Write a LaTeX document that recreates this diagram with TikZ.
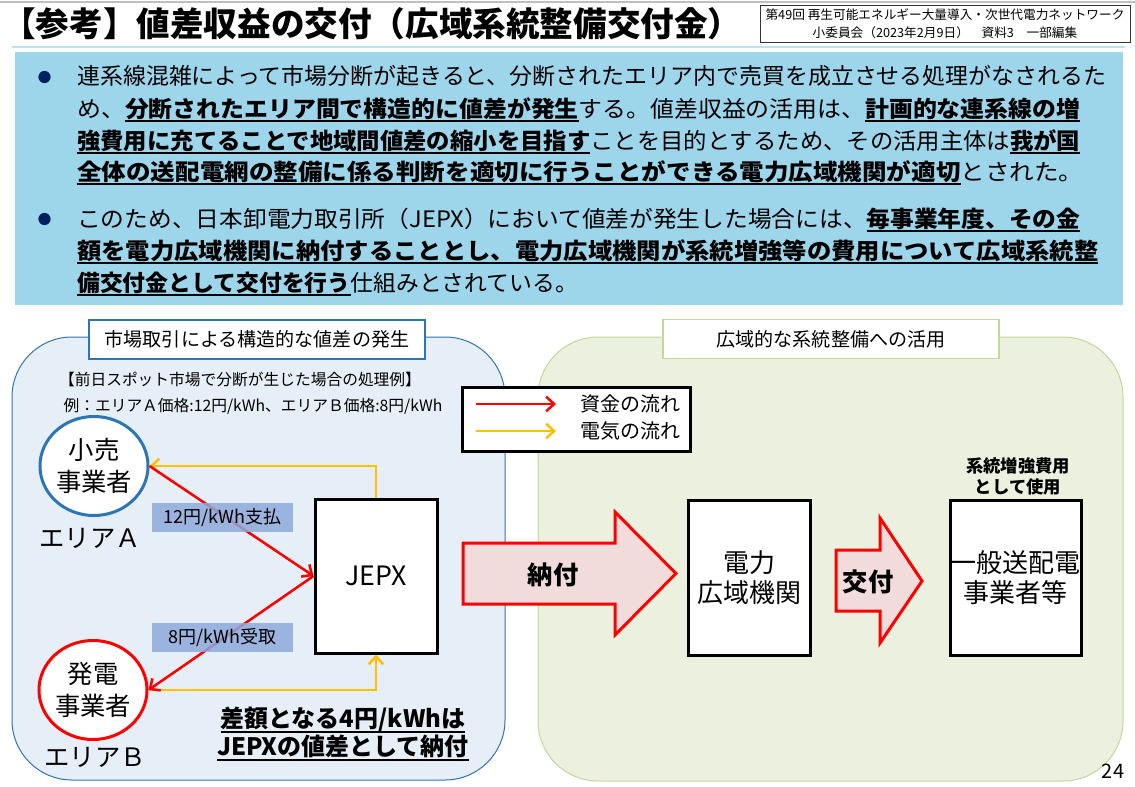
\documentclass[tikz,border=0pt]{standalone}
\usepackage{fontspec}
\setmainfont{Noto Sans CJK JP}
\usepackage{graphicx}
\usetikzlibrary{arrows.meta, shapes.geometric, positioning}

\definecolor{bullbg}{RGB}{157,213,235}
\definecolor{navy}{RGB}{0,32,96}
\definecolor{leftbg}{RGB}{230,238,247}
\definecolor{leftline}{RGB}{46,117,182}
\definecolor{rightbg}{RGB}{235,241,222}
\definecolor{rightline}{RGB}{195,214,155}
\definecolor{pinkfill}{RGB}{242,220,219}
\definecolor{labelblue}{RGB}{142,169,219}
\definecolor{gold}{RGB}{255,192,0}

\newcommand\fsz[2]{\fontsize{#1}{#2}\selectfont}
\newsavebox\ulbox
\newcommand\bu[1]{\sbox\ulbox{\textbf{#1}}\rlap{\rule[-0.2em]{\wd\ulbox}{0.08em}}\usebox\ulbox}

\begin{document}
\begin{tikzpicture}[x=0.75pt, y=-0.75pt,
                    txt/.style={anchor=base west, inner sep=0pt, font=\fsz{17pt}{20pt}},
                    money/.style={red, line width=1.9pt, -{Straight Barb[length=6pt,width=11pt]}},
                    power/.style={gold, line width=1.9pt, -{Straight Barb[length=6pt,width=11pt]}},
                    panelhead/.style={fill=white, line width=1pt, minimum width=252pt, minimum height=29.25pt, font=\fsz{14.3pt}{17pt}},
                    party/.style={ellipse, draw, fill=white, line width=2.25pt, minimum width=81pt, minimum height=74.25pt, inner sep=0pt, align=center, font=\fsz{19pt}{24pt}},
                    area/.style={font=\fsz{19pt}{22pt}},
                    price/.style={fill=labelblue, fill opacity=0.85, text opacity=1, minimum width=105.75pt, minimum height=21.75pt, font=\fsz{13.5pt}{15pt}},
                    org/.style={draw, fill=white, line width=2.25pt, align=center, font=\fsz{19.5pt}{22.5pt}},
                    flow/.style={draw=red, fill=pinkfill, line width=2.25pt},
                    flowtext/.style={font=\bfseries\fsz{19pt}{22pt}}]
    \useasboundingbox (0,0) rectangle (1135,786);

    % header
    \draw[black!25, line width=1pt] (0,2) -- (1135,2);
    \node[anchor=west, inner sep=0pt, font=\bfseries\fsz{25.2pt}{30pt}] (title) at (2,24) {【参考】値差収益の交付（広域系統整備交付金）};
    \node[draw=black!80, line width=0.75pt, fill=white, minimum width=277.5pt, minimum height=27.75pt, inner sep=1pt,
          align=center, font=\fsz{9.5pt}{13.8pt}] (meta) at (945,23.5)
          {第49回 再生可能エネルギー大量導入・次世代電力ネットワーク\\小委員会（2023年2月9日）　資料3　一部編集};
    \draw[bullbg!70, line width=1pt] (12,47) -- (1125,47);

    % bullets
    \fill[bullbg] (15,52) rectangle (1123,305);
    \fill[navy] (44.5,77) circle (4.6pt);
    \fill[navy] (44.5,219) circle (4.6pt);
    \node[txt] (b1a) at (77,84) {\resizebox{771.75pt}{\height}{連系線混雑によって市場分断が起きると、分断されたエリア内で売買を成立させる処理がなされるた}};
    \node[txt] (b1b) at (77,117) {\resizebox{752.25pt}{\height}{め、\bu{分断されたエリア間で構造的に値差が発生}する。値差収益の活用は、\bu{計画的な連系線の増}}};
    \node[txt] (b1c) at (77,149) {\resizebox{752.25pt}{\height}{\bu{強費用に充てることで地域間値差の縮小を目指す}ことを目的とするため、その活用主体は\bu{我が国}}};
    \node[txt] (b1d) at (77,180) {\resizebox{754.5pt}{\height}{\bu{全体の送配電網の整備に係る判断を適切に行うことができる電力広域機関が適切}とされた。}};
    \node[txt] (b2a) at (77,227) {\resizebox{752.25pt}{\height}{このため、日本卸電力取引所（JEPX）において値差が発生した場合には、\bu{毎事業年度、その金}}};
    \node[txt] (b2b) at (77,259) {\resizebox{765.75pt}{\height}{\bu{額を電力広域機関に納付することとし、電力広域機関が系統増強等の費用について広域系統整}}};
    \node[txt] (b2c) at (77,291) {\resizebox{375.75pt}{\height}{\bu{備交付金として交付を行う}仕組みとされている。}};

    % panels
    \draw[fill=leftbg, draw=leftline, line width=0.75pt, rounded corners=45pt] (12,337) rectangle (505,780);
    \draw[fill=rightbg, draw=rightline, line width=0.75pt, rounded corners=45pt] (538,337) rectangle (1123,781);
    \node[panelhead, draw=leftline] (lhead) at (257,339.5) {市場取引による構造的な値差の発生};
    \node[panelhead, draw=rightline] (rhead) at (831,339) {広域的な系統整備への活用};

    \node[font=\fsz{11.8pt}{14pt}] (case) at (240,380) {【前日スポット市場で分断が生じた場合の処理例】};
    \node[font=\fsz{11.8pt}{14pt}] (prices) at (253,406) {例：エリアＡ価格:12円/kWh、エリアＢ価格:8円/kWh};

    % market
    \node[party, draw=leftline] (retail) at (94,466) {小売\\事業者};
    \node[party, draw=red] (gen) at (93,690) {発電\\事業者};
    \node[area] (areaA) at (90,538) {エリアＡ};
    \node[area] (areaB) at (95,757) {エリアＢ};
    \node[org, minimum width=91.5pt, minimum height=115.5pt, font=\fsz{20pt}{24pt}] (jepx) at (376,576) {JEPX};

    \draw[power] (jepx.north) |- (retail.east);
    \draw[power] (gen.east) -| (jepx.south);
    \draw[money] (retail.east) -- (jepx.west);
    \draw[money] (jepx.west) -- (gen.east);
    \node[price] (pay) at (222.5,517.5) {12円/kWh支払};
    \node[price] (recv) at (222.5,637.5) {8円/kWh受取};

    \node[align=center, font=\fsz{18pt}{21pt}] (spread) at (343,734) {\bu{差額となる4円/kWhは}\\\bu{JEPXの値差として納付}};

    % legend
    \node[draw, fill=white, line width=2.25pt, minimum width=171pt, minimum height=48pt] (legend) at (576,419) {};
    \coordinate (m0) at (476,404);
    \coordinate (m1) at (556,404);
    \coordinate (p0) at (476,431);
    \coordinate (p1) at (556,431);
    \draw[money] (m0) -- (m1);
    \draw[power] (p0) -- (p1);
    \node[anchor=west, inner sep=0pt, font=\fsz{15pt}{18pt}] (mlabel) at (580,404) {資金の流れ};
    \node[anchor=west, inner sep=0pt, font=\fsz{15pt}{18pt}] (plabel) at (580,431) {電気の流れ};

    % grant flow
    \draw[flow] (463,543) -- (615,543) -- (615,512) -- (676,573.5) -- (615,635) -- (615,604) -- (463,604) -- cycle;
    \node[flowtext] (pay2) at (553,575) {納付};
    \node[org, minimum width=91.5pt, minimum height=116.25pt] (occto) at (749.5,577.5) {電力\\広域機関};
    \draw[flow] (836,550) -- (880,550) -- (880,518) -- (922,581) -- (880,643) -- (880,611) -- (836,611) -- cycle;
    \node[flowtext] (grant) at (868,582) {交付};
    \node[org, minimum width=98.25pt, minimum height=116.25pt, inner sep=0pt] (tso) at (1015.5,577.5) {一般送配電\\事業者等};
    \node[align=center, font=\bfseries\fsz{13pt}{15.75pt}] (use) at (1018,476) {系統増強費用\\として使用};

    \node[font=\fsz{15pt}{18pt}] (page) at (1113,771) {24};
\end{tikzpicture}
\end{document}
